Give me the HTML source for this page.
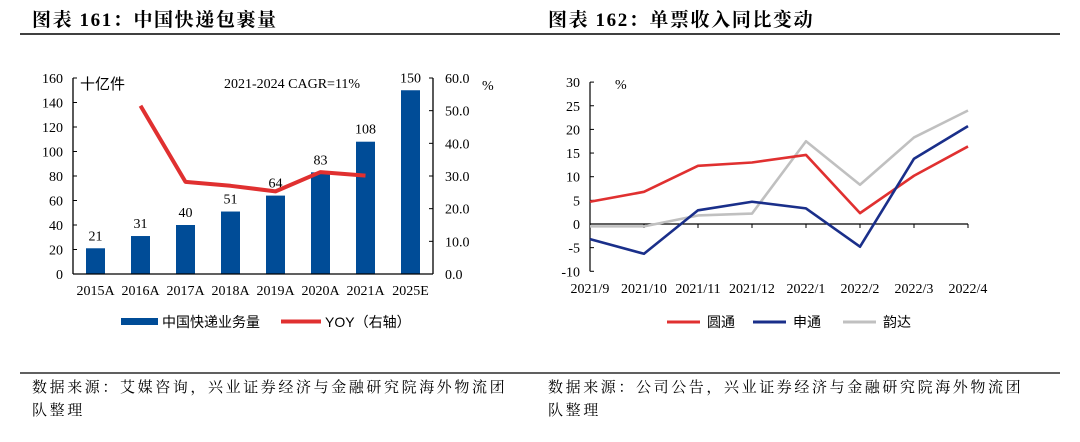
<!DOCTYPE html>
<html><head><meta charset="utf-8"><style>
body{margin:0;width:1080px;height:437px;background:#fff;overflow:hidden;font-family:"Liberation Serif","Noto Serif CJK SC",serif}
svg text{font-family:"Liberation Serif","Noto Serif CJK SC",serif}
.cjk{font-family:"Liberation Sans","Noto Sans CJK SC",sans-serif}
</style></head><body>
<svg width="1080" height="437">
<text x="32" y="26" font-size="19" font-weight="bold" letter-spacing="1.6">图表 161：中国快递包裹量</text>
<line x1="20" y1="34" x2="540" y2="34" stroke="#000" stroke-width="1.5"/>
<text x="548" y="26" font-size="19" font-weight="bold" letter-spacing="1.6">图表 162：单票收入同比变动</text>
<line x1="540" y1="34" x2="1060" y2="34" stroke="#000" stroke-width="1.5"/>
<g id="left"></g>
<g id="right"></g>
<line x1="20" y1="373" x2="1060" y2="373" stroke="#000" stroke-width="1.2"/>
<text x="32" y="392" font-size="15" letter-spacing="2.6">数据来源：艾媒咨询，兴业证券经济与金融研究院海外物流团</text>
<text x="32" y="415" font-size="15" letter-spacing="2.6">队整理</text>
<text x="548" y="392" font-size="15" letter-spacing="2.6">数据来源：公司公告，兴业证券经济与金融研究院海外物流团</text>
<text x="548" y="415" font-size="15" letter-spacing="2.6">队整理</text>
</svg>
<script>
const NS='http://www.w3.org/2000/svg';
function mk(p,t,a,txt){const e=document.createElementNS(NS,t);for(const k in a)e.setAttribute(k,a[k]);if(txt!==undefined)e.textContent=txt;p.appendChild(e);return e;}
// Left chart data
const years=['2015A','2016A','2017A','2018A','2019A','2020A','2021A','2025E'];
const volumes=[21,31,40,51,64,83,108,150];
const yoy=[null,51.5,28.2,27,25.3,31.2,30.1,null];
const leftTicks=[0,20,40,60,80,100,120,140,160];
const rightTicks=['0.0','10.0','20.0','30.0','40.0','50.0','60.0'];
// Right chart data
const months=['2021/9','2021/10','2021/11','2021/12','2022/1','2022/2','2022/3','2022/4'];
const yto=[4.7,6.8,12.3,13.0,14.6,2.3,10.2,16.4];
const sto=[-3.2,-6.3,2.9,4.7,3.3,-4.8,13.8,20.7];
const yunda=[-0.5,-0.5,1.8,2.2,17.5,8.3,18.3,24.0];
const rTicks=[-10,-5,0,5,10,15,20,25,30];

const L=document.getElementById('left');
const x0=73,x1=433,yb=274,yt=78;
const yL=v=>yb-(v/160)*(yb-yt), yR=v=>yb-(v/60)*(yb-yt);
const bw=(x1-x0)/years.length, xc=i=>x0+bw*(i+0.5);
volumes.forEach((v,i)=>{
 const r=mk(L,'rect',{x:xc(i)-9.5,y:yL(v),width:19,height:yb-yL(v),fill:'#004c97'});
 
 
 const t=mk(L,'text',{x:xc(i),y:yL(v)-8,'text-anchor':'middle','font-size':14},v);
 
 
});
mk(L,'line',{x1:x0,y1:yt,x2:x0,y2:yb,stroke:'#000','stroke-width':1.3});
mk(L,'line',{x1:x0,y1:yb,x2:x1,y2:yb,stroke:'#000','stroke-width':1.3});
mk(L,'line',{x1:x1,y1:yt,x2:x1,y2:yb,stroke:'#000','stroke-width':1.3});
leftTicks.forEach(v=>{mk(L,'line',{x1:x0,y1:yL(v),x2:x0+4,y2:yL(v),stroke:'#000'});
 const t=mk(L,'text',{x:x0-10,y:yL(v)+5,'text-anchor':'end','font-size':14},v);
 });
rightTicks.forEach(v=>{mk(L,'line',{x1:x1-4,y1:yR(+v),x2:x1,y2:yR(+v),stroke:'#000'});
 const t=mk(L,'text',{x:x1+12,y:yR(+v)+5,'font-size':14},v);
 });
years.forEach((y,i)=>{const t=mk(L,'text',{x:xc(i),y:295,'text-anchor':'middle','font-size':14},y);
 });
let pts=yoy.map((v,i)=>v==null?null:xc(i)+','+yR(v)).filter(p=>p).join(' ');
const pl=mk(L,'polyline',{points:pts,fill:'none',stroke:'#e03030','stroke-width':4,'stroke-linejoin':'round'});

mk(L,'text',{x:80,y:89,'font-size':15,class:'cjk'},'十亿件');
mk(L,'text',{x:224,y:88,'font-size':14},'2021-2024 CAGR=11%');
mk(L,'text',{x:482,y:90,'font-size':14},'%');
mk(L,'rect',{x:121,y:318,width:37,height:7,fill:'#004c97'});
mk(L,'text',{x:162,y:327,'font-size':14,class:'cjk'},'中国快递业务量');
mk(L,'line',{x1:281,y1:321.5,x2:321,y2:321.5,stroke:'#e03030','stroke-width':4});
mk(L,'text',{x:325,y:327,'font-size':14,class:'cjk'},'YOY（右轴）');

const R=document.getElementById('right');
const rx0=590,rx1=968,ry=v=>224-v*4.73;
const rxc=i=>rx0+(rx1-rx0)/7*i;
mk(R,'line',{x1:rx0,y1:ry(30),x2:rx0,y2:ry(-10),stroke:'#000','stroke-width':1.2});
mk(R,'line',{x1:rx0,y1:ry(0),x2:rx1,y2:ry(0),stroke:'#000','stroke-width':1.2});
rTicks.forEach(v=>{mk(R,'line',{x1:rx0,y1:ry(v),x2:rx0+4,y2:ry(v),stroke:'#000'});
 const t=mk(R,'text',{x:rx0-10,y:ry(v)+5,'text-anchor':'end','font-size':14},v);
 });
months.forEach((m,i)=>{if(i>0)mk(R,'line',{x1:rxc(i),y1:ry(0),x2:rxc(i),y2:ry(0)+4,stroke:'#000'});
 const t=mk(R,'text',{x:rxc(i),y:293,'text-anchor':'middle','font-size':14},m);
 });
mk(R,'text',{x:615,y:89,'font-size':14},'%');
[[yunda,'#c0c0c0','yunda-line'],[yto,'#e03030','yto-line'],[sto,'#1a2f8a','sto-line']].forEach(([d,c,n])=>{
 const p=mk(R,'polyline',{points:d.map((v,i)=>rxc(i)+','+ry(v)).join(' '),fill:'none',stroke:c,'stroke-width':2.6,'stroke-linejoin':'round'});
 });
[['#e03030',667,'圆通'],['#1a2f8a',753,'申通'],['#c0c0c0',843,'韵达']].forEach(([c,x,l])=>{
 mk(R,'line',{x1:x,y1:322,x2:x+33,y2:322,stroke:c,'stroke-width':3});
 const t=mk(R,'text',{x:x+40,y:327,'font-size':14,class:'cjk'},l);
 });
</script>
</body></html>
